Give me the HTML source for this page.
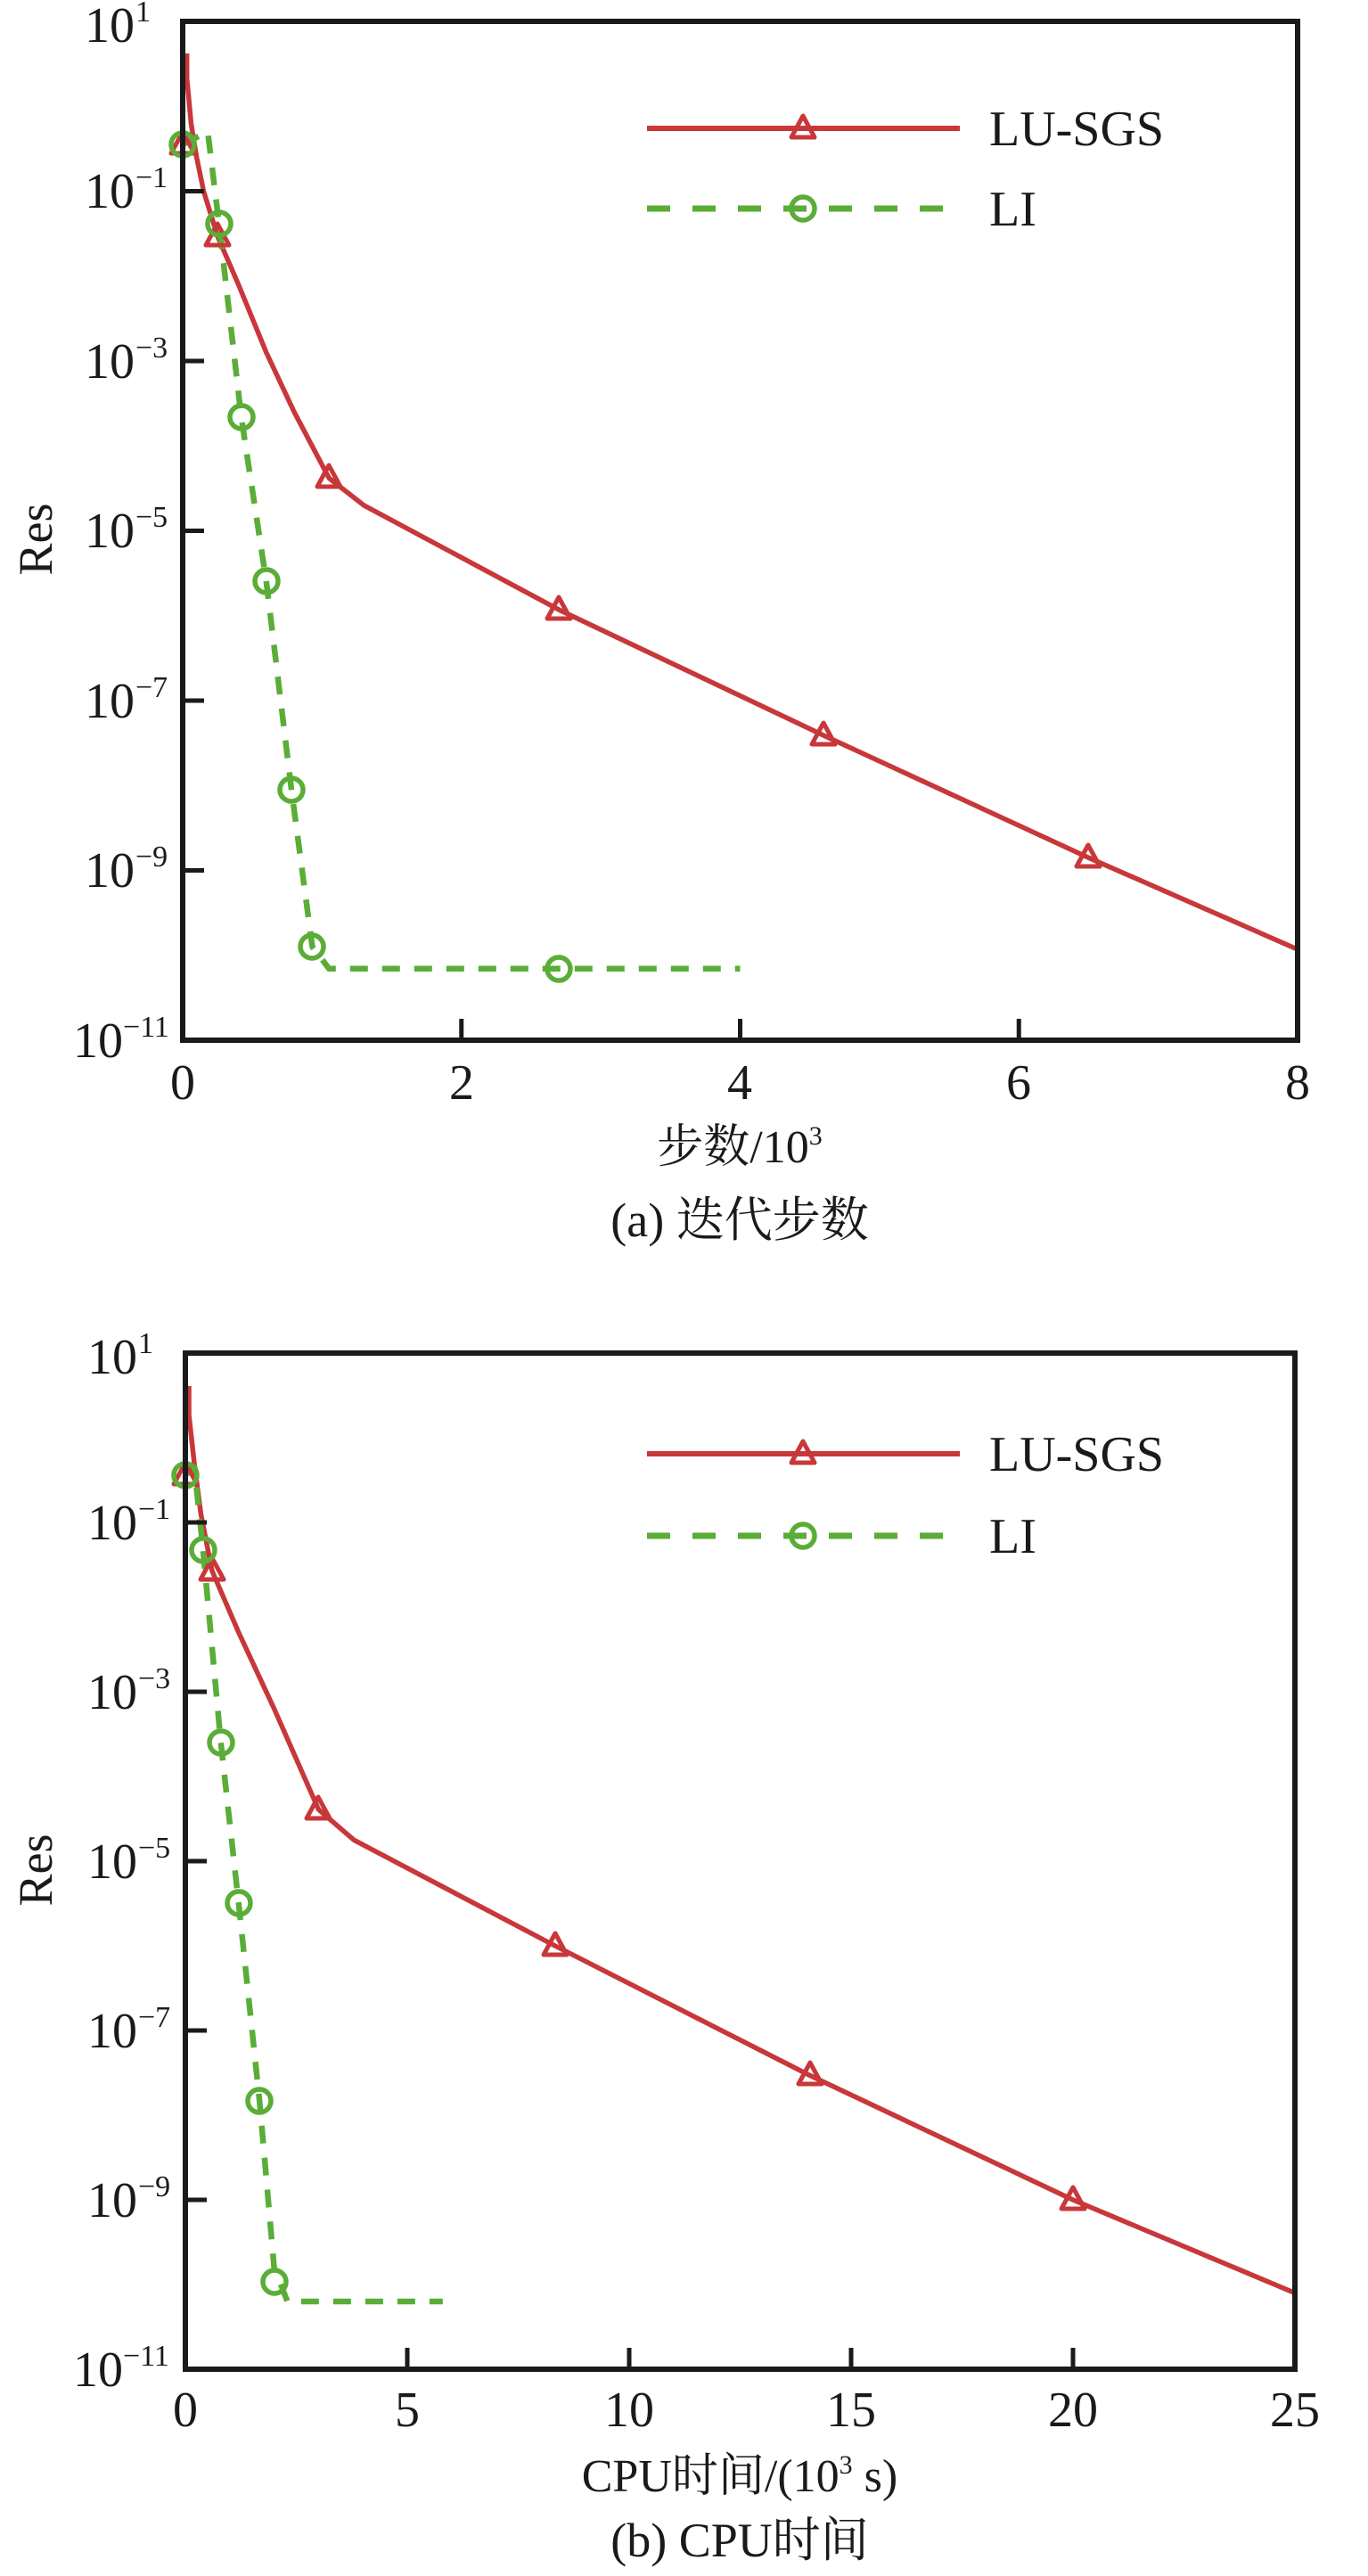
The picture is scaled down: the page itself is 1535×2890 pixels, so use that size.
<!DOCTYPE html>
<html><head><meta charset="utf-8"><style>
html,body{margin:0;padding:0;background:#fff;}
svg{display:block;}
text{font-family:"Liberation Serif","Noto Serif CJK SC","Noto Sans CJK SC",serif;fill:#1a1a1a;}
</style></head><body>
<svg width="1535" height="2890" viewBox="0 0 1535 2890" xmlns="http://www.w3.org/2000/svg">
<defs>
<g id="tri"><path d="M0,-14 L13,10 L-13,10 Z" fill="none" stroke="#c8373a" stroke-width="5" stroke-linejoin="round"/></g>
<g id="cir"><circle r="13" fill="none" stroke="#5aad36" stroke-width="5.5"/></g>
</defs>

<!-- ============ Plot A ============ -->
<g>
<polyline fill="none" stroke="#c8373a" stroke-width="5.5" stroke-linejoin="round" points="209.7,60 209.7,87.8 214.4,138.3 220.6,176.4 228.5,214.5 244.1,265 267.6,319.3 298.8,395.5 330.1,462.2 369.2,536.4 408.3,566.9 627.2,684.1 924.3,825.1 1221.4,962.2 1456,1065.1"/>
<polyline fill="none" stroke="#5aad36" stroke-width="6.5" stroke-dasharray="20,16" stroke-linejoin="round" points="205,162.1 233.1,147.8 245.7,250.6 270.7,467.8 298.8,652.5 327,885.9 350.4,1062 369.2,1086.8 830.5,1086.8"/>
<use href="#tri" x="205" y="162"/><use href="#tri" x="244" y="265"/><use href="#tri" x="369" y="536"/><use href="#tri" x="627" y="684"/><use href="#tri" x="924" y="825"/><use href="#tri" x="1221" y="962"/>
<use href="#cir" x="205" y="162"/><use href="#cir" x="246" y="251"/><use href="#cir" x="271" y="468"/><use href="#cir" x="299" y="652"/><use href="#cir" x="327" y="886"/><use href="#cir" x="350" y="1062"/><use href="#cir" x="627" y="1087"/>
<rect x="205" y="24" width="1251" height="1143" fill="none" stroke="#1a1a1a" stroke-width="6"/>
<g stroke="#1a1a1a" stroke-width="5">
<line x1="205" y1="214.5" x2="229" y2="214.5"/><line x1="205" y1="405" x2="229" y2="405"/><line x1="205" y1="595.5" x2="229" y2="595.5"/><line x1="205" y1="786" x2="229" y2="786"/><line x1="205" y1="976.5" x2="229" y2="976.5"/>
<line x1="517.75" y1="1167" x2="517.75" y2="1143"/><line x1="830.5" y1="1167" x2="830.5" y2="1143"/><line x1="1143.25" y1="1167" x2="1143.25" y2="1143"/>
</g>
<g font-size="56">
<text x="95" y="47">10</text><text x="152" y="24" font-size="34">1</text>
<text x="95" y="233">10</text><text x="152" y="210" font-size="34">−1</text>
<text x="95" y="424">10</text><text x="152" y="401" font-size="34">−3</text>
<text x="95" y="614">10</text><text x="152" y="591" font-size="34">−5</text>
<text x="95" y="805">10</text><text x="152" y="782" font-size="34">−7</text>
<text x="95" y="995">10</text><text x="152" y="972" font-size="34">−9</text>
<text x="82" y="1186">10</text><text x="138" y="1163" font-size="34">−11</text>
</g>
<g font-size="56" text-anchor="middle">
<text x="205" y="1233">0</text><text x="518" y="1233">2</text><text x="830" y="1233">4</text><text x="1143" y="1233">6</text><text x="1456" y="1233">8</text>
</g>
<text x="58" y="605" font-size="54" text-anchor="middle" transform="rotate(-90 58 605)">Res</text>
<text x="830" y="1304" font-size="52" text-anchor="middle">步数/10<tspan font-size="30" dy="-20">3</tspan></text>
<text x="830" y="1387" font-size="54" text-anchor="middle">(a) 迭代步数</text>
<!-- legend -->
<line x1="726" y1="144" x2="1077" y2="144" stroke="#c8373a" stroke-width="6"/>
<use href="#tri" x="901" y="144"/>
<line x1="726" y1="234" x2="1062" y2="234" stroke="#5aad36" stroke-width="7" stroke-dasharray="26,25"/>
<use href="#cir" x="901" y="234"/>
<text x="1110" y="163" font-size="56">LU-SGS</text>
<text x="1110" y="253" font-size="56">LI</text>
</g>

<!-- ============ Plot B ============ -->
<g>
<polyline fill="none" stroke="#c8373a" stroke-width="5.5" stroke-linejoin="round" points="212,1555 212,1587.4 218,1641.5 225.4,1698.5 237.9,1762.2 267.8,1831.5 307.6,1917 357.4,2030 397.2,2064.3 622.8,2183 908.7,2328.4 1204,2468 1453,2572.5"/>
<polyline fill="none" stroke="#5aad36" stroke-width="6.5" stroke-dasharray="20,16" stroke-linejoin="round" points="208,1654.8 218,1646 227.9,1739.4 247.8,1955 267.8,2135.5 291.2,2356.9 307.6,2544 322.5,2582 496.8,2582"/>
<use href="#tri" x="208" y="1655"/><use href="#tri" x="238" y="1762"/><use href="#tri" x="357" y="2030"/><use href="#tri" x="623" y="2183"/><use href="#tri" x="909" y="2328"/><use href="#tri" x="1204" y="2468"/>
<use href="#cir" x="208" y="1655"/><use href="#cir" x="228" y="1739"/><use href="#cir" x="248" y="1955"/><use href="#cir" x="268" y="2135"/><use href="#cir" x="291" y="2357"/><use href="#cir" x="308" y="2560"/>
<rect x="208" y="1518" width="1245" height="1140" fill="none" stroke="#1a1a1a" stroke-width="6"/>
<g stroke="#1a1a1a" stroke-width="5">
<line x1="208" y1="1708" x2="232" y2="1708"/><line x1="208" y1="1898" x2="232" y2="1898"/><line x1="208" y1="2088" x2="232" y2="2088"/><line x1="208" y1="2278" x2="232" y2="2278"/><line x1="208" y1="2468" x2="232" y2="2468"/>
<line x1="457" y1="2658" x2="457" y2="2634"/><line x1="706" y1="2658" x2="706" y2="2634"/><line x1="955" y1="2658" x2="955" y2="2634"/><line x1="1204" y1="2658" x2="1204" y2="2634"/>
</g>
<g font-size="56">
<text x="98" y="1541">10</text><text x="155" y="1518" font-size="34">1</text>
<text x="98" y="1727">10</text><text x="155" y="1704" font-size="34">−1</text>
<text x="98" y="1917">10</text><text x="155" y="1894" font-size="34">−3</text>
<text x="98" y="2107">10</text><text x="155" y="2084" font-size="34">−5</text>
<text x="98" y="2297">10</text><text x="155" y="2274" font-size="34">−7</text>
<text x="98" y="2487">10</text><text x="155" y="2464" font-size="34">−9</text>
<text x="82" y="2677">10</text><text x="138" y="2654" font-size="34">−11</text>
</g>
<g font-size="56" text-anchor="middle">
<text x="208" y="2722">0</text><text x="457" y="2722">5</text><text x="706" y="2722">10</text><text x="955" y="2722">15</text><text x="1204" y="2722">20</text><text x="1453" y="2722">25</text>
</g>
<text x="58" y="2098" font-size="54" text-anchor="middle" transform="rotate(-90 58 2098)">Res</text>
<text x="830" y="2795" font-size="52" text-anchor="middle">CPU时间/(10<tspan font-size="30" dy="-20">3</tspan><tspan dy="20"> s)</tspan></text>
<text x="830" y="2868" font-size="54" text-anchor="middle">(b) CPU时间</text>
<!-- legend -->
<line x1="726" y1="1631" x2="1077" y2="1631" stroke="#c8373a" stroke-width="6"/>
<use href="#tri" x="901" y="1631"/>
<line x1="726" y1="1723" x2="1062" y2="1723" stroke="#5aad36" stroke-width="7" stroke-dasharray="26,25"/>
<use href="#cir" x="901" y="1723"/>
<text x="1110" y="1650" font-size="56">LU-SGS</text>
<text x="1110" y="1742" font-size="56">LI</text>
</g>
</svg>
</body></html>
